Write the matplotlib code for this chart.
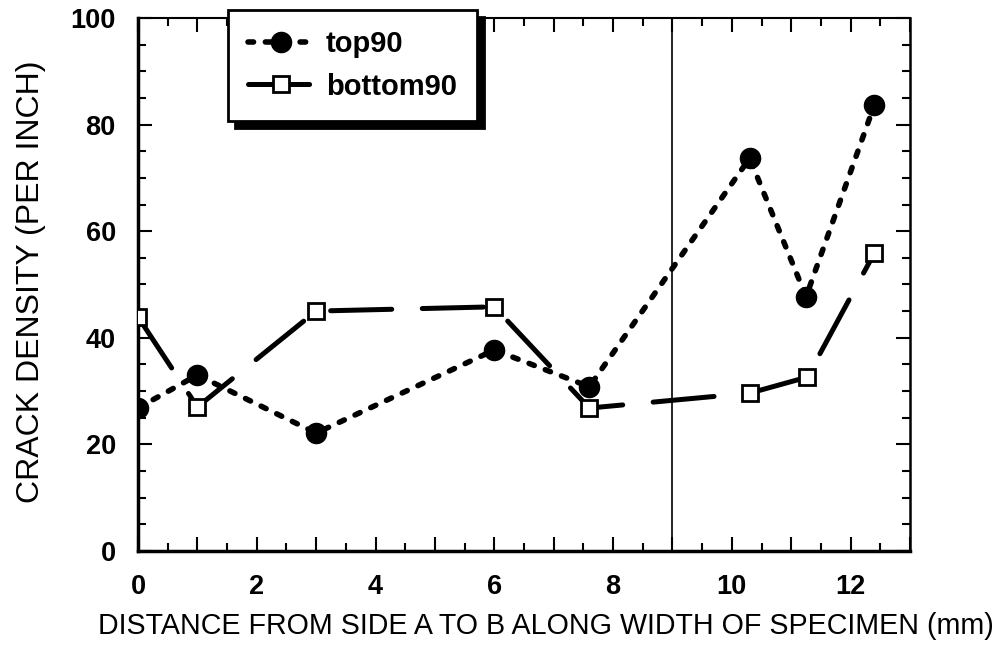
import matplotlib
matplotlib.use("Agg")
import matplotlib.pyplot as plt
from matplotlib.ticker import MultipleLocator, FuncFormatter

plt.rcParams['lines.scale_dashes'] = False

# Data
x_top = [0, 1, 3, 6, 7.6, 10.3, 11.25, 12.4]
top90 = [26.8, 33.0, 22.1, 37.7, 30.8, 73.7, 47.7, 83.7]
x_bot = [0, 1, 3, 6, 7.6, 10.3, 11.27, 12.4]
bottom90 = [43.9, 27.0, 45.0, 45.8, 26.8, 29.6, 32.6, 55.9]
vline_x = 9
xlabel = "DISTANCE FROM SIDE A TO B ALONG WIDTH OF SPECIMEN (mm)"
ylabel = "CRACK DENSITY (PER INCH)"

fig = plt.figure(figsize=(10, 6.45), dpi=100)
ax = fig.add_axes([0.138, 0.146, 0.772, 0.826])

label_font = ['Liberation Sans', 'DejaVu Sans']
tick_font = ['Liberation Sans', 'DejaVu Sans']

ax.plot(x_top, top90, color='black', lw=4.0, dashes=(4.0, 8.5),
        dash_capstyle='round', marker='o', ms=14.5, mfc='black', mec='black',
        label='top90', zorder=3)
ax.plot(x_bot, bottom90, color='black', lw=3.6, dashes=(44, 22),
        dash_capstyle='round', marker='s', ms=12, mfc='white', mec='black',
        mew=2, label='bottom90', zorder=3)

ax.axvline(vline_x, color='black', lw=1.2, zorder=1)

ax.set_xlim(0, 13)
ax.set_ylim(0, 100)
ax.xaxis.set_major_locator(MultipleLocator(1))
ax.xaxis.set_minor_locator(MultipleLocator(0.5))
ax.xaxis.set_major_formatter(FuncFormatter(lambda v, p: f"{int(round(v))}" if int(round(v)) % 2 == 0 else ""))
ax.yaxis.set_major_locator(MultipleLocator(20))
ax.yaxis.set_minor_locator(MultipleLocator(5))

ax.tick_params(which='both', direction='in', top=True, right=True, color='black')
ax.tick_params(which='major', length=10, width=1.5)
ax.tick_params(which='minor', length=6, width=1.5)
ax.tick_params(axis='x', which='major', pad=17)
ax.tick_params(axis='y', which='major', pad=16)
ax.tick_params(axis='both', which='major', labelsize=19.5)
for lab in ax.get_xticklabels() + ax.get_yticklabels():
    lab.set_fontfamily(tick_font)
    lab.set_fontweight('bold')

ax.spines['left'].set_linewidth(2.5)
ax.spines['bottom'].set_linewidth(2.5)
ax.spines['top'].set_linewidth(1.5)
ax.spines['right'].set_linewidth(1.8)

ax.set_xlabel(xlabel, fontsize=20.6, family=label_font)
ax.xaxis.set_label_coords(0.528, -0.115)
ax.set_ylabel(ylabel, fontsize=23, family=label_font)
ax.yaxis.set_label_coords(-0.119, 0.505)

leg = ax.legend(loc='upper left',
                frameon=True, fancybox=False,
                shadow={'ox': 5, 'oy': -5, 'color': 'black', 'alpha': 1},
                prop={'family': tick_font, 'weight': 'bold', 'size': 21},
                handlelength=2.2, borderpad=0.7, labelspacing=0.5, handletextpad=0.45,
                borderaxespad=0)
leg.set_bbox_to_anchor((0.228, 0.0, 0.3, 0.985), transform=fig.transFigure)
leg.get_frame().set_edgecolor('black')
leg.get_frame().set_linewidth(2)
leg.set_zorder(5)

fig.savefig("out.png", dpi=100)
